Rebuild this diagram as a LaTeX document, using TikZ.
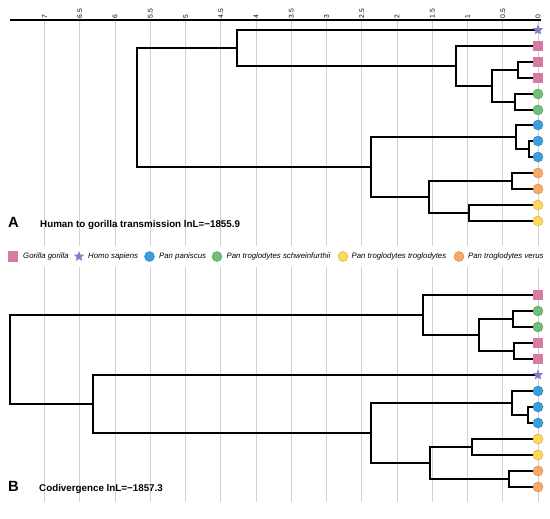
\documentclass[tikz,border=0pt]{standalone}
\usepackage{fontspec}
\setmainfont{Liberation Sans}
\usetikzlibrary{shapes.geometric}
\definecolor{ggpink}{RGB}{214,123,166}
\definecolor{ggpurple}{RGB}{140,120,200}
\definecolor{ggblue}{RGB}{57,160,224}
\definecolor{gggreen}{RGB}{110,192,120}
\definecolor{ggyellow}{RGB}{253,216,90}
\definecolor{ggorange}{RGB}{247,170,100}
\definecolor{gridgray}{RGB}{208,208,208}
\begin{document}
\begin{tikzpicture}[x=1pt,y=-1pt,
  gridline/.style={draw=gridgray, line width=0.9pt},
  branch/.style={draw=black, line width=1.5pt, line cap=rect, line join=miter},
  gg/.style={rectangle, fill=ggpink, minimum size=10.5pt, inner sep=0pt},
  hs/.style={star, star points=5, star point ratio=2.3, fill=ggpurple, minimum size=11pt, inner sep=0pt},
  dot/.style={circle, fill=#1, draw=#1!80!black, line width=0.4pt, minimum size=10pt, inner sep=0pt},
  pp/.style={dot=ggblue},
  pts/.style={dot=gggreen},
  ptt/.style={dot=ggyellow},
  ptv/.style={dot=ggorange},
  legtext/.style={anchor=base west, inner sep=0pt, font=\itshape\fontsize{7.8}{9}\selectfont},
  ticklabel/.style={anchor=west, rotate=90, inner sep=0pt, font=\fontsize{6.8}{8}\selectfont},
  title/.style={anchor=base west, inner sep=0pt, font=\bfseries\fontsize{9.8}{12}\selectfont},
  panel/.style={anchor=base west, inner sep=0pt, font=\bfseries\fontsize{14.8}{17}\selectfont}
]
\useasboundingbox (0,0) rectangle (550,519);
\fill[white] (0,0) rectangle (550,519);

% grid lines and axis
\foreach \k/\lab in {0/0,1/0.5,2/1,3/1.5,4/2,5/2.5,6/3,7/3.5,8/4,9/4.5,10/5,11/5.5,12/6,13/6.5,14/7}{
  \draw[gridline] ({538-35.25*\k},20) -- ({538-35.25*\k},502);
  \node[ticklabel] (t\k) at ({538-35.25*\k},18.3) {\lab};
}
\draw[line width=1.3pt] (10,20) -- (541,20);

% legend band
\fill[white] (0,246) rectangle (550,267);

% ---------- Tree A ----------
\coordinate (a1)  at (538,30);
\coordinate (a2)  at (538,46);
\coordinate (a3)  at (538,62);
\coordinate (a4)  at (538,78);
\coordinate (a5)  at (538,94);
\coordinate (a6)  at (538,110);
\coordinate (a7)  at (538,125);
\coordinate (a8)  at (538,141);
\coordinate (a9)  at (538,157);
\coordinate (a10) at (538,173);
\coordinate (a11) at (538,189);
\coordinate (a12) at (538,205);
\coordinate (a13) at (538,221);

\coordinate (nA34)  at (518,70);
\coordinate (nA56)  at (515,102);
\coordinate (nA36)  at (492,86);
\coordinate (nA26)  at (456,66);
\coordinate (nA16)  at (237,48);
\coordinate (nA89)  at (529,149);
\coordinate (nA79)  at (516,137);
\coordinate (nA1011) at (512,181);
\coordinate (nA1213) at (469,213);
\coordinate (nA1013) at (429,197);
\coordinate (nA713) at (371,167);
\coordinate (nArt) at (137,108);

\draw[branch] (nArt) |- (nA16);
\draw[branch] (nArt) |- (nA713);
\draw[branch] (nA16) |- (a1);
\draw[branch] (nA16) |- (nA26);
\draw[branch] (nA26) |- (a2);
\draw[branch] (nA26) |- (nA36);
\draw[branch] (nA36) |- (nA34);
\draw[branch] (nA36) |- (nA56);
\draw[branch] (nA34) |- (a3);
\draw[branch] (nA34) |- (a4);
\draw[branch] (nA56) |- (a5);
\draw[branch] (nA56) |- (a6);
\draw[branch] (nA713) |- (nA79);
\draw[branch] (nA713) |- (nA1013);
\draw[branch] (nA79) |- (a7);
\draw[branch] (nA79) |- (nA89);
\draw[branch] (nA89) |- (a8);
\draw[branch] (nA89) |- (a9);
\draw[branch] (nA1013) |- (nA1011);
\draw[branch] (nA1013) |- (nA1213);
\draw[branch] (nA1011) |- (a10);
\draw[branch] (nA1011) |- (a11);
\draw[branch] (nA1213) |- (a12);
\draw[branch] (nA1213) |- (a13);

\foreach \s/\n in {hs/1,gg/2,gg/3,gg/4,pts/5,pts/6,pp/7,pp/8,pp/9,ptv/10,ptv/11,ptt/12,ptt/13}{
  \node[\s] (sa\n) at (a\n) {};
}

\node[panel] (labA) at (8,227.3) {A};
\node[title] (titA) at (40,227.3) {Human to gorilla transmission lnL=−1855.9};

% ---------- Legend ----------
\node[gg]  (lg1) at (13,256.5) {};
\node[legtext] (lt1) at (23,258.6) {Gorilla gorilla};
\node[hs]  (lg2) at (79,256.5) {};
\node[legtext] (lt2) at (88,258.6) {Homo sapiens};
\node[pp]  (lg3) at (149.5,256.5) {};
\node[legtext] (lt3) at (159,258.6) {Pan paniscus};
\node[pts] (lg4) at (217,256.5) {};
\node[legtext] (lt4) at (226.5,258.6) {Pan troglodytes schweinfurthii};
\node[ptt] (lg5) at (343,256.5) {};
\node[legtext] (lt5) at (351.5,258.6) {Pan troglodytes troglodytes};
\node[ptv] (lg6) at (459,256.5) {};
\node[legtext] (lt6) at (468,258.6) {Pan troglodytes verus};

% ---------- Tree B ----------
\coordinate (b1)  at (538,295);
\coordinate (b2)  at (538,311);
\coordinate (b3)  at (538,327);
\coordinate (b4)  at (538,343);
\coordinate (b5)  at (538,359);
\coordinate (b6)  at (538,375);
\coordinate (b7)  at (538,391);
\coordinate (b8)  at (538,407);
\coordinate (b9)  at (538,423);
\coordinate (b10) at (538,439);
\coordinate (b11) at (538,455);
\coordinate (b12) at (538,471);
\coordinate (b13) at (538,487);

\coordinate (nB23)  at (513,319);
\coordinate (nB45)  at (514,351);
\coordinate (nB25)  at (479,335);
\coordinate (nB15)  at (423,315);
\coordinate (nB89)  at (528,415);
\coordinate (nB79)  at (512,403);
\coordinate (nB1011) at (472,447);
\coordinate (nB1213) at (509,479);
\coordinate (nB1013) at (430,463);
\coordinate (nB713) at (371,433);
\coordinate (nB613) at (93,404);
\coordinate (nBrt) at (10,359.5);

\draw[branch] (nBrt) |- (nB15);
\draw[branch] (nBrt) |- (nB613);
\draw[branch] (nB15) |- (b1);
\draw[branch] (nB15) |- (nB25);
\draw[branch] (nB25) |- (nB23);
\draw[branch] (nB25) |- (nB45);
\draw[branch] (nB23) |- (b2);
\draw[branch] (nB23) |- (b3);
\draw[branch] (nB45) |- (b4);
\draw[branch] (nB45) |- (b5);
\draw[branch] (nB613) |- (b6);
\draw[branch] (nB613) |- (nB713);
\draw[branch] (nB713) |- (nB79);
\draw[branch] (nB713) |- (nB1013);
\draw[branch] (nB79) |- (b7);
\draw[branch] (nB79) |- (nB89);
\draw[branch] (nB89) |- (b8);
\draw[branch] (nB89) |- (b9);
\draw[branch] (nB1013) |- (nB1011);
\draw[branch] (nB1013) |- (nB1213);
\draw[branch] (nB1011) |- (b10);
\draw[branch] (nB1011) |- (b11);
\draw[branch] (nB1213) |- (b12);
\draw[branch] (nB1213) |- (b13);

\foreach \s/\n in {gg/1,pts/2,pts/3,gg/4,gg/5,hs/6,pp/7,pp/8,pp/9,ptt/10,ptt/11,ptv/12,ptv/13}{
  \node[\s] (sb\n) at (b\n) {};
}

\node[panel] (labB) at (8,491.7) {B};
\node[title] (titB) at (39,491.7) {Codivergence lnL=−1857.3};
\end{tikzpicture}
\end{document}
